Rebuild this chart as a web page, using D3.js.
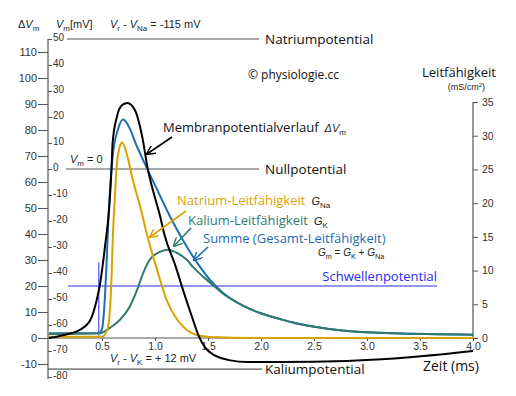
<!DOCTYPE html>
<html>
<head>
<meta charset="utf-8">
<script src="https://cdn.jsdelivr.net/npm/d3@7"></script>
<style>
  body { margin: 0; background: #fff; }
  .tick text { font-family: "Liberation Sans", Arial, sans-serif; fill: #333; }
  .tick line { stroke: #555; }
  .lbl { font-family: "Open Sans", "Noto Sans", sans-serif; }
  .sm { font-family: "Liberation Sans", Arial, sans-serif; }
</style>
</head>
<body>
<svg id="chart" width="516" height="396"></svg>
<script>
// Ticks
const deltaTicks = [-10, 0, 10, 20, 30, 40, 50, 60, 70, 80, 90, 100, 110];
const vmTicks = [-80, -70, -60, -50, -40, -30, -20, -10, 0, 10, 20, 30, 40, 50];
const condTicks = [0, 5, 10, 15, 20, 25, 30, 35];
const timeTicks = [0.5, 1.0, 1.5, 2.0, 2.5, 3.0, 3.5, 4.0];

// Reference potentials (Vm, mV)
const naPotential = 50;
const nullPotential = 0;
const kPotential = -77;
const thresholdDelta = 20;
const thresholdTime = 0.47;

// Membrane potential change ΔVm (mV) over time (ms)
const vmTime = [0, 0.10, 0.29, 0.39, 0.45, 0.48, 0.53, 0.57, 0.59, 0.60, 0.64, 0.69, 0.74, 0.81,
  0.88, 0.93, 0.98, 1.05, 1.09, 1.19, 1.28, 1.35, 1.41, 1.47, 1.55, 1.63, 1.71, 1.87, 2.18, 2.81, 3.43, 4.0];
const vmDelta = [0, 0.8, 3.1, 6.9, 14.6, 20.4, 35.8, 51.2, 65.4, 75, 85, 89.6, 90.4, 87.7,
  77.3, 65.4, 56.9, 46.5, 39.6, 28.1, 16.5, 8.0, 1.0, -3.5, -6.4, -7.8, -8.6, -9.2, -9.2, -8.8, -7.3, -5];

// Total conductance Gm (mS/cm²)
const gmTime = [0, 0.47, 0.50, 0.52, 0.54, 0.56, 0.60, 0.65, 0.70, 0.745, 0.83, 0.92, 1.02, 1.14,
  1.26, 1.40, 1.52, 1.64, 1.83, 1.99, 2.18, 2.30, 2.49, 2.77, 3.25, 4.0];
const gmValue = [0.7, 0.7, 1.3, 4.2, 10, 17.5, 26.9, 30.9, 32.4, 31.6, 28.4, 25.3, 22, 18.1,
  14.6, 11.1, 8.6, 6.7, 4.8, 3.7, 2.8, 2.3, 1.7, 1.1, 0.7, 0.5];

// Sodium conductance GNa
const gnaTime = [0, 0.50, 0.55, 0.575, 0.59, 0.60, 0.62, 0.64, 0.66, 0.69, 0.74, 0.79, 0.86, 0.93,
  1.02, 1.11, 1.21, 1.30, 1.40, 1.52, 2.0, 4.0];
const gnaValue = [0.2, 0.2, 1.2, 4.2, 9.1, 14.1, 20.5, 25.7, 27.9, 29, 26.9, 23.5, 19.5, 15,
  10.1, 5.6, 2.7, 1.2, 0.4, 0.15, 0, 0];

// Potassium conductance GK
const gkTime = [0, 0.48, 0.575, 0.67, 0.76, 0.83, 0.89, 0.95, 1.05, 1.12, 1.21, 1.30, 1.36, 1.52,
  1.64, 1.83, 1.99, 2.18, 2.30, 2.49, 2.77, 3.25, 4.0];
const gkValue = [0.6, 0.7, 1.5, 2.7, 4.6, 7.1, 9.7, 11.6, 12.8, 13.1, 12.6, 11.6, 10.5, 8.2,
  6.6, 4.8, 3.7, 2.8, 2.3, 1.7, 1.1, 0.7, 0.5];

const svg = d3.select('#chart');
svg.append('rect').attr('width', 516).attr('height', 396).attr('fill', '#fff');

const x = d3.scaleLinear().domain([0, 4]).range([49, 473]);
const yDelta = d3.scaleLinear().domain([0, 110]).range([338, 52]);
const yVm = d3.scaleLinear().domain([-65, 45]).range([338, 52]);
const yG = d3.scaleLinear().domain([0, 35]).range([338, 102]);
const plain = d => String(d); // hyphen-minus like the original

const grey = '#555';
const colBlue = '#1e6cb4';
const colNa = '#d8a300';
const colK = '#2f7a6e';
const colThr = '#2b2bf0';

svg.append('defs').selectAll('marker')
  .data([['arBlack', '#000'], ['arNa', colNa], ['arK', colK], ['arBlue', colBlue]])
  .enter().append('marker')
  .attr('id', d => d[0])
  .attr('viewBox', '0 0 10 10').attr('refX', 9).attr('refY', 5)
  .attr('markerWidth', 9).attr('markerHeight', 9).attr('orient', 'auto')
  .attr('markerUnits', 'userSpaceOnUse')
  .append('path').attr('d', 'M0,0 L10,5 L0,10').attr('fill', 'none')
  .attr('stroke', d => d[1]).attr('stroke-width', 1.6);

// Left axis line
svg.append('line').attr('x1', 48).attr('x2', 48)
  .attr('y1', yVm(50)).attr('y2', yVm(-80) + 2).attr('stroke', grey).attr('stroke-width', 1.2);

// ΔVm ticks (left)
const axL = svg.append('g').attr('transform', 'translate(48,0)')
  .call(d3.axisLeft(yDelta).tickValues(deltaTicks).tickSize(10).tickPadding(1).tickFormat(plain));
axL.select('.domain').remove();
axL.selectAll('text').attr('font-size', 11);

// Vm ticks (right side of the same line)
const axV = svg.append('g').attr('transform', 'translate(48,0)')
  .call(d3.axisRight(yVm).tickValues(vmTicks).tickSize(4).tickPadding(1).tickFormat(plain));
axV.select('.domain').remove();
axV.selectAll('text').attr('font-size', 10).attr('dy', '0.1em');

// Conductance axis (right)
const axR = svg.append('g').attr('transform', `translate(${x(4)},0)`)
  .call(d3.axisRight(yG).tickValues(condTicks).tickSize(5).tickPadding(4));
axR.select('.domain').remove();
axR.selectAll('text').attr('font-size', 10.5);
svg.append('line').attr('x1', x(4)).attr('x2', x(4))
  .attr('y1', yG(35)).attr('y2', yG(0)).attr('stroke', grey).attr('stroke-width', 1.2);

// Time axis
const axB = svg.append('g').attr('transform', `translate(0,${yDelta(0)})`)
  .call(d3.axisBottom(x).tickValues(timeTicks).tickSize(3).tickPadding(2).tickFormat(d3.format('.1f')));
axB.select('.domain').remove();
axB.selectAll('text').attr('font-size', 10.5);
svg.append('line').attr('x1', 48).attr('x2', x(4))
  .attr('y1', yDelta(0)).attr('y2', yDelta(0)).attr('stroke', grey).attr('stroke-width', 1.2);

// Reference potential lines
const refLines = [
  { v: naPotential, x0: 67, x1: 259, label: 'Natriumpotential' },
  { v: nullPotential, x0: 66, x1: 259, label: 'Nullpotential' },
  { v: kPotential, x0: 48, x1: 262, label: 'Kaliumpotential' }
];
svg.selectAll('.ref').data(refLines).enter().append('line')
  .attr('x1', d => d.x0).attr('x2', d => d.x1)
  .attr('y1', d => yVm(d.v)).attr('y2', d => yVm(d.v))
  .attr('stroke', grey).attr('stroke-width', 1.2);
svg.selectAll('.refLbl').data(refLines).enter().append('text')
  .attr('class', 'lbl').attr('x', 265).attr('y', d => yVm(d.v) + 5)
  .attr('font-size', 13.5).attr('fill', '#111').text(d => d.label);

// Threshold
svg.append('line').attr('x1', 68).attr('x2', 437)
  .attr('y1', yDelta(thresholdDelta)).attr('y2', yDelta(thresholdDelta))
  .attr('stroke', colThr).attr('stroke-width', 1);
svg.append('line').attr('x1', x(thresholdTime)).attr('x2', x(thresholdTime))
  .attr('y1', 262).attr('y2', yDelta(0))
  .attr('stroke', colThr).attr('stroke-width', 1);
svg.append('text').attr('class', 'lbl').attr('x', 437).attr('y', 281)
  .attr('text-anchor', 'end').attr('font-size', 13).attr('fill', colThr).text('Schwellenpotential');

// Curves
const line = d3.line().curve(d3.curveMonotoneX);
function drawCurve(ts, vs, yScale, color) {
  svg.append('path')
    .attr('d', line(ts.map((t, i) => [x(t), yScale(vs[i])])))
    .attr('fill', 'none').attr('stroke', color).attr('stroke-width', 2)
    .attr('stroke-linejoin', 'round');
}
drawCurve(gmTime, gmValue, yG, colBlue);
drawCurve(gkTime, gkValue, yG, colK);
drawCurve(gnaTime, gnaValue, yG, colNa);
drawCurve(vmTime, vmDelta, yDelta, '#000');

// Arrows
const arrows = [
  [172, 137, 147, 154, 'arBlack', '#000'],
  [186, 211, 150, 237, 'arNa', colNa],
  [191, 228, 174, 246, 'arK', colK],
  [208, 247, 194, 260, 'arBlue', colBlue]
];
svg.selectAll('.arrow').data(arrows).enter().append('line')
  .attr('x1', d => d[0]).attr('y1', d => d[1]).attr('x2', d => d[2]).attr('y2', d => d[3])
  .attr('stroke', d => d[5]).attr('stroke-width', 1.6)
  .attr('marker-end', d => `url(#${d[4]})`);

// Curve labels
function addLabel(xp, yp, txt, color, sym, sub) {
  const t = svg.append('text').attr('class', 'lbl').attr('x', xp).attr('y', yp)
    .attr('font-size', 13).attr('fill', color);
  t.append('tspan').text(txt);
  if (sym) {
    t.append('tspan').attr('class', 'sm').attr('dx', 6).attr('font-size', 11)
      .attr('font-style', 'italic').attr('fill', '#222').text(sym);
    t.append('tspan').attr('class', 'sm').attr('font-size', 8).attr('dy', 3)
      .attr('fill', '#222').text(sub);
  }
}
addLabel(163, 132, 'Membranpotentialverlauf', '#111', 'ΔV', 'm');
addLabel(177, 205, 'Natrium-Leitfähigkeit', colNa, 'G', 'Na');
addLabel(188, 225, 'Kalium-Leitfähigkeit', colK, 'G', 'K');
addLabel(203, 243, 'Summe (Gesamt-Leitfähigkeit)', colBlue);

// Small formula texts
function formula(xp, yp, parts, size) {
  const t = svg.append('text').attr('class', 'sm').attr('x', xp).attr('y', yp)
    .attr('font-size', size).attr('fill', '#222');
  parts.forEach(p => {
    const s = t.append('tspan').text(p[0]);
    if (p[1] === 'i') s.attr('font-style', 'italic');
    if (p[1] === 's') s.attr('font-size', size * 0.72).attr('dy', 3);
    if (p[1] === 'u') s.attr('dy', -3);
  });
}
formula(318, 256, [['G', 'i'], ['m', 's'], [' = ', 'u'], ['G', 'i'], ['K', 's'], [' + ', 'u'], ['G', 'i'], ['Na', 's']], 10);
formula(18, 28, [['Δ'], ['V', 'i'], ['m', 's']], 11);
formula(56, 28, [['V', 'i'], ['m', 's'], ['[mV]', 'u']], 11);
formula(110, 28, [['V', 'i'], ['r', 's'], [' - ', 'u'], ['V', 'i'], ['Na', 's'], [' = -115 mV', 'u']], 11);
formula(110, 362, [['V', 'i'], ['r', 's'], [' - ', 'u'], ['V', 'i'], ['K', 's'], [' = + 12 mV', 'u']], 11);
formula(70, 163, [['V', 'i'], ['m', 's'], [' = 0', 'u']], 11);

// Titles
svg.append('text').attr('class', 'lbl').attr('x', 423).attr('y', 371)
  .attr('font-size', 14).attr('fill', '#111').text('Zeit (ms)');
svg.append('text').attr('class', 'lbl').attr('x', 496).attr('y', 77)
  .attr('text-anchor', 'end').attr('font-size', 13).attr('fill', '#111').text('Leitfähigkeit');
const unit = svg.append('text').attr('class', 'sm').attr('x', 485).attr('y', 90)
  .attr('text-anchor', 'end').attr('font-size', 9).attr('fill', '#222');
unit.append('tspan').text('(mS/cm');
unit.append('tspan').attr('font-size', 6).attr('dy', -3).text('2');
unit.append('tspan').attr('dy', 3).text(')');
svg.append('text').attr('class', 'lbl').attr('x', 248).attr('y', 79)
  .attr('font-size', 12).attr('fill', '#111').text('© physiologie.cc');
</script>
</body>
</html>
